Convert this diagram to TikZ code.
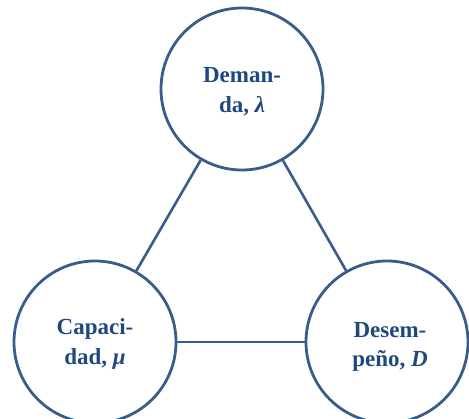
\documentclass[tikz,border=0pt]{standalone}
\usepackage{fontspec}
\setmainfont{Liberation Serif}
\definecolor{ringc}{HTML}{385D8A}
\definecolor{inkc}{HTML}{1F497D}
\begin{document}
\begin{tikzpicture}[x=1pt,y=-1pt,
  ring/.style={circle, draw=ringc, line width=2.8pt, minimum size=162pt, inner sep=0pt},
  lbl/.style={text=inkc, font=\fontsize{23}{29.5}\selectfont\bfseries, align=center, inner sep=0pt},
  link/.style={draw=ringc, line width=2.6pt}]
\useasboundingbox (0,0) rectangle (469,419);
\node[ring] (dem) at (242,89) {};
\node[ring] (cap) at (95,342) {};
\node[ring] (des) at (387,342) {};
\node[lbl] (tdem) at (242,92) {Deman-\\da, \textit{λ}};
\node[lbl] (tcap) at (95,344) {Capaci-\\dad, \textit{μ}};
\node[lbl] (tdes) at (390,347) {Desem-\\peño, \textit{D}};
\draw[link] (dem) -- (cap);
\draw[link] (dem) -- (des);
\draw[link] (cap) -- (des);
\end{tikzpicture}
\end{document}
